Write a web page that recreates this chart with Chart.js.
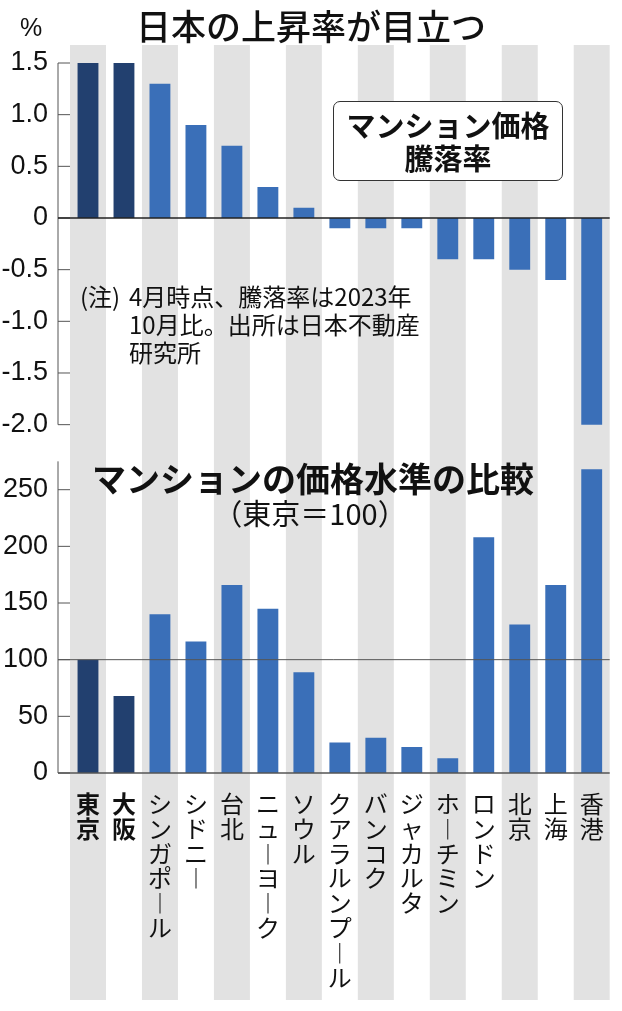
<!DOCTYPE html>
<html lang="ja">
<head>
<meta charset="utf-8">
<script src="https://cdn.jsdelivr.net/npm/chart.js@4.4.1/dist/chart.umd.min.js"></script>
<style>
  body { margin: 0; background: #fff; }
  #wrap { position: relative; width: 622px; height: 1011px; font-family: "Noto Sans CJK JP", sans-serif; color: #111; }
  #chart { position: absolute; left: 0; top: 0; }
  .txt { position: absolute; white-space: nowrap; line-height: 1; }
  #title { left: 0; width: 622px; top: 7px; text-align: center; font-size: 35px; font-weight: 500; }
  #unit { left: 20px; top: 15px; font-size: 25px; font-family: "Liberation Sans", Arial, sans-serif; }
  #box { left: 333px; top: 101px; width: 230px; height: 80px; box-sizing: border-box; border: 1.5px solid #333; border-radius: 7px; background: #fff; text-align: center; font-size: 29px; font-weight: 700; line-height: 33px; padding-top: 6px; }
  #note { left: 80px; top: 282px; font-size: 24px; line-height: 28px; display: flex; }
  #note .lab { width: 49px; }
  #title2 { left: 0; width: 626px; top: 461px; text-align: center; font-size: 34px; font-weight: 700; }
  #sub { left: 0; width: 620px; top: 498px; text-align: center; font-size: 29px; }
</style>
</head>
<body>
<div id="wrap">
  <canvas id="chart" width="622" height="1011"></canvas>
  <div class="txt" id="title">日本の上昇率が目立つ</div>
  <div class="txt" id="unit">%</div>
  <div class="txt" id="box">マンション価格<br>騰落率</div>
  <div class="txt" id="note"><span class="lab">(注)</span><span>4月時点、騰落率は2023年<br>10月比。出所は日本不動産<br>研究所</span></div>
  <div class="txt" id="title2">マンションの価格水準の比較</div>
  <div class="txt" id="sub">（東京＝100）</div>
</div>
<script>
// cities, left to right
const cities = ["東京", "大阪", "シンガポール", "シドニー", "台北", "ニューヨーク", "ソウル",
  "クアラルンプール", "バンコク", "ジャカルタ", "ホーチミン", "ロンドン", "北京", "上海", "香港"];
// price change since Oct 2023, %
const rateChange = [1.5, 1.5, 1.3, 0.9, 0.7, 0.3, 0.1, -0.1, -0.1, -0.1, -0.4, -0.4, -0.5, -0.6, -2.0];
// price level, Tokyo = 100
const priceLevel = [100, 68, 140, 116, 166, 145, 89, 27, 31, 23, 13, 208, 131, 166, 268];
const rateTicks = [1.5, 1.0, 0.5, 0, -0.5, -1.0, -1.5, -2.0];
const levelTicks = [0, 50, 100, 150, 200, 250];
const levelAxisTop = 275;

const numFont = "'Liberation Sans', Arial, sans-serif";
const barColors = cities.map((c, i) => i < 2 ? "#22406f" : "#3a6fb8");

// grey column behind every other city
const stripes = {
  id: "stripes",
  beforeDraw(chart) {
    const { ctx } = chart;
    const x = chart.scales.x;
    const w = x.getPixelForValue(1) - x.getPixelForValue(0);
    ctx.save();
    ctx.fillStyle = "#e2e2e2";
    cities.forEach((c, i) => {
      if (i % 2) return;
      ctx.fillRect(x.getPixelForValue(i) - w / 2, 45, w, 955);
    });
    ctx.restore();
  }
};

// axis lines drawn a bit left of the plot, ticks pointing inward
const axisLines = {
  id: "axisLines",
  afterDatasetsDraw(chart) {
    const { ctx, chartArea } = chart;
    const yT = chart.scales.yTop, yB = chart.scales.yBot;
    const ax = chartArea.left - 12;
    const line = (x1, y1, x2, y2) => { ctx.beginPath(); ctx.moveTo(x1, y1); ctx.lineTo(x2, y2); ctx.stroke(); };
    ctx.save();
    ctx.strokeStyle = "#555";
    ctx.lineWidth = 1;
    line(ax, yT.getPixelForValue(rateTicks[0]), ax, yT.getPixelForValue(rateTicks[rateTicks.length - 1]));
    rateTicks.forEach(v => { const p = yT.getPixelForValue(v); line(ax, p, ax + 12, p); });
    line(ax, yB.getPixelForValue(levelAxisTop), ax, yB.getPixelForValue(0));
    levelTicks.forEach(v => { const p = yB.getPixelForValue(v); line(ax, p, ax + 12, p); });
    // 100 reference line
    line(ax, yB.getPixelForValue(100), chartArea.right, yB.getPixelForValue(100));
    ctx.strokeStyle = "#222";
    ctx.lineWidth = 1.5;
    line(ax, yT.getPixelForValue(0), chartArea.right, yT.getPixelForValue(0));
    ctx.strokeStyle = "#555";
    line(ax, yB.getPixelForValue(0), chartArea.right, yB.getPixelForValue(0));
    ctx.restore();
  }
};

new Chart(document.getElementById("chart"), {
  type: "bar",
  data: {
    labels: cities,
    datasets: [
      { data: rateChange, yAxisID: "yTop", backgroundColor: barColors, grouped: false,
        barPercentage: 0.58, categoryPercentage: 1 },
      { data: priceLevel, yAxisID: "yBot", backgroundColor: barColors, grouped: false,
        barPercentage: 0.58, categoryPercentage: 1 }
    ]
  },
  options: {
    responsive: false,
    devicePixelRatio: 1,
    animation: false,
    layout: { padding: { top: 63, right: 9, left: 0, bottom: 0 } },
    plugins: { legend: { display: false }, tooltip: { enabled: false } },
    scales: {
      x: {
        grid: { display: false, drawTicks: false },
        border: { display: false },
        afterFit(s) { s.height = 238; },
        ticks: {
          autoSkip: false, maxRotation: 0, minRotation: 0, padding: 18, color: "#111",
          font: ctx => ({ family: "'Noto Sans CJK JP', sans-serif", size: 24, lineHeight: 1.04,
            weight: ctx.index < 2 ? "bold" : "normal" }),
          callback: (v, i) => cities[i].split("").map(ch => ch === "ー" ? "︱" : ch)
        }
      },
      yBot: {
        position: "left", stack: "panels", stackWeight: 330,
        min: 0, max: 291.2,
        grid: { display: false, drawTicks: false },
        border: { display: false },
        afterFit(s) { s.width = 70; },
        afterBuildTicks(s) { s.ticks = levelTicks.map(v => ({ value: v })); },
        ticks: { autoSkip: false, padding: 22, color: "#111", font: { family: numFont, size: 27 },
          callback: v => String(v) }
      },
      yTop: {
        position: "left", stack: "panels", stackWeight: 380,
        min: -2.1775, max: 1.5,
        grid: { display: false, drawTicks: false },
        border: { display: false },
        afterFit(s) { s.width = 70; },
        afterBuildTicks(s) { s.ticks = rateTicks.map(v => ({ value: v })); },
        ticks: { autoSkip: false, padding: 22, color: "#111", font: { family: numFont, size: 27 },
          callback: v => v === 0 ? "0" : v.toFixed(1) }
      }
    }
  },
  plugins: [stripes, axisLines]
});
</script>
</body>
</html>
